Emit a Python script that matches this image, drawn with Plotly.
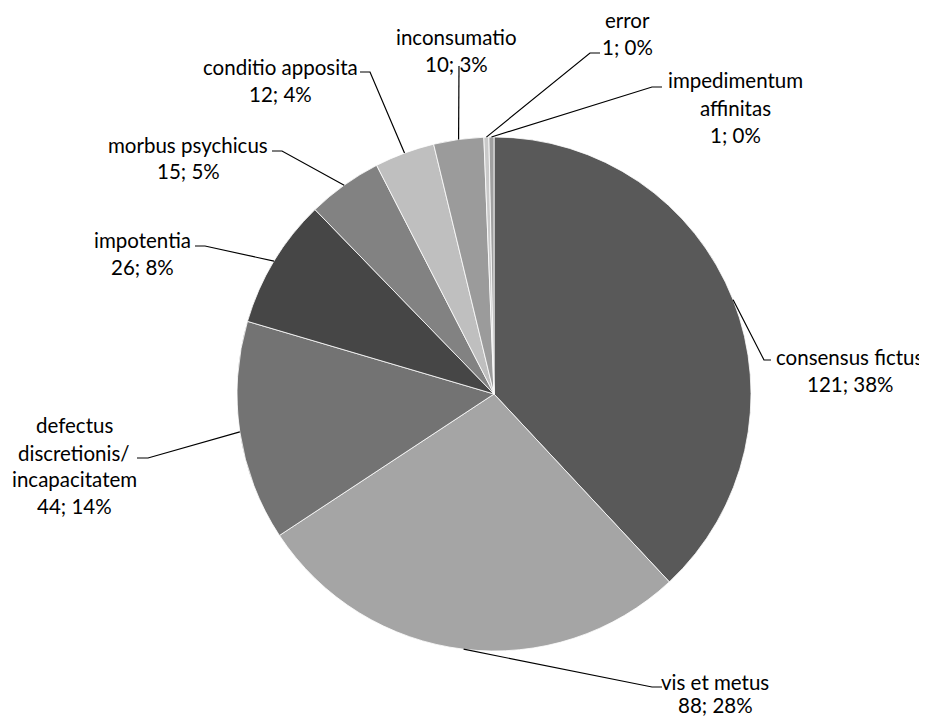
import math
import plotly.graph_objects as go

# ---- data ----
categories = [
    "consensus fictus",
    "vis et metus",
    "defectus\ndiscretionis/\nincapacitatem",
    "impotentia",
    "morbus psychicus",
    "conditio apposita",
    "inconsumatio",
    "error",
    "impedimentum\naffinitas",
]
values = [121, 88, 44, 26, 15, 12, 10, 1, 1]
colors = ["#595959", "#A5A5A5", "#737373", "#464646", "#828282",
          "#BFBFBF", "#9B9B9B", "#C9C9C9", "#A0A0A0"]

# ---- layout constants (window pixels) ----
OFF = 8                      # page body margin
W, H = 927 - OFF, 717 - OFF  # figure size so it fills the window
CX, CY, R = 494, 394, 257
FONT = "Lato, Carlito, Calibri, sans-serif"
FS = 20.5

# label text center x and line center ys; leader elbow and end points
label_pos = [
    (850, [357, 384], (764, 360), (771, 360)),
    (715, [682, 705], (652, 687), (662, 687)),
    (74, [425, 453, 479, 506], (148, 458), (137, 458)),
    (142, [240, 267], (205, 246), (195, 246)),
    (188, [145, 171], (282, 151), (272, 151)),
    (280, [67, 94], (370, 72), (360, 72)),
    (456, [37, 64], None, (459, 66)),
    (627, [20, 47], (590, 53), (600, 53)),
    (735, [80, 108, 135], (652, 87), (662, 87)),
]


def px(x, y):
    return (x - OFF) / W, 1 - (y - OFF) / H


fig = go.Figure()
x0, y1 = px(CX - R, CY + R)
x1, y0 = px(CX + R, CY - R)
fig.add_trace(go.Pie(
    labels=[c.replace("\n", " ") for c in categories],
    values=values,
    sort=False,
    direction="clockwise",
    rotation=0,
    textinfo="none",
    marker=dict(colors=colors, line=dict(color="white", width=0.8)),
    domain=dict(x=[x0, x1], y=[y1, y0]),
    showlegend=False,
))

total = sum(values)
cum = 0
annotations = []
shapes = []
for cat, v, (tx, ys, elbow, end) in zip(categories, values, label_pos):
    mid = (cum + v / 2) / total * 2 * math.pi
    cum += v
    ax = CX + R * math.sin(mid)
    ay = CY - R * math.cos(mid)
    pts = [(ax, ay)]
    if elbow is not None:
        pts.append(elbow)
    pts.append(end)
    path = "M " + " L ".join(f"{px(x, y)[0]:.5f},{px(x, y)[1]:.5f}" for x, y in pts)
    shapes.append(dict(type="path", xref="paper", yref="paper", path=path,
                       line=dict(color="black", width=1.2)))
    lines = cat.split("\n") + [f"{v}; {round(v / total * 100)}%"]
    for line, ly in zip(lines, ys):
        x, y = px(tx, ly)
        annotations.append(dict(x=x, y=y, xref="paper", yref="paper", text=line,
                                showarrow=False, xanchor="center", yanchor="middle",
                                font=dict(family=FONT, size=FS, color="#000000")))

fig.update_layout(
    width=W, height=H,
    margin=dict(l=0, r=0, t=0, b=0),
    paper_bgcolor="white", plot_bgcolor="white",
    annotations=annotations, shapes=shapes,
)
fig.write_html("out.html")
